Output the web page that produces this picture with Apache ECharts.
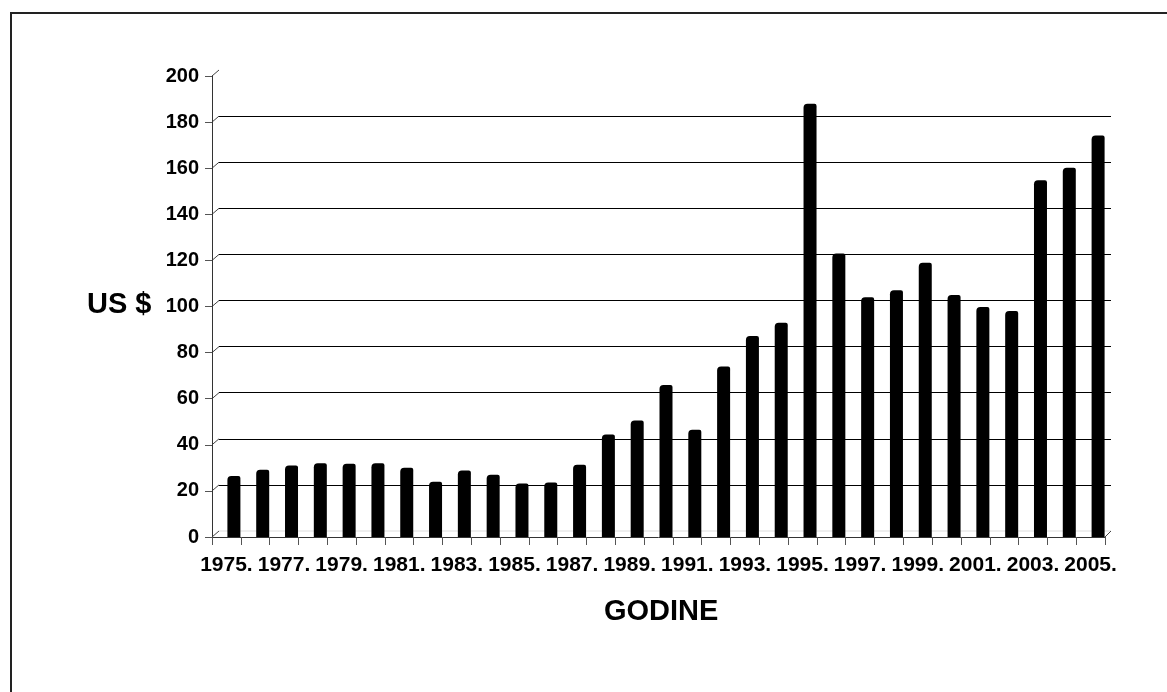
<!DOCTYPE html>
<html>
<head>
<meta charset="utf-8">
<script src="https://cdn.jsdelivr.net/npm/echarts@6/dist/echarts.min.js"></script>
<style>
html,body{margin:0;padding:0;background:#fff;}
#chart{width:1167px;height:692px;}
</style>
</head>
<body>
<div id="chart"></div>
<script>
// ---- data ----
const years = ['1975.','1976.','1977.','1978.','1979.','1980.','1981.','1982.','1983.','1984.','1985.','1986.','1987.','1988.','1989.','1990.','1991.','1992.','1993.','1994.','1995.','1996.','1997.','1998.','1999.','2000.','2001.','2002.','2003.','2004.','2005.'];
const values = [26.5, 29.2, 31.0, 32.0, 31.8, 32.0, 30.0, 24.0, 28.8, 27.0, 23.2, 23.6, 31.3, 44.5, 50.5, 65.9, 46.5, 74.0, 87.2, 93.0, 188.0, 123.0, 104.0, 107.0, 119.0, 105.0, 99.8, 98.0, 154.8, 160.2, 174.2];
const yMin = 0, yMax = 200, yStep = 20;
const yTitle = 'US $';
const xTitle = 'GODINE';

const FONT = '"Liberation Sans", Arial, sans-serif';
const chart = echarts.init(document.getElementById('chart'), null, {renderer: 'canvas'});

const option = {
  backgroundColor: '#fff',
  animation: false,
  grid: [
    {left: 212, right: 62, top: 76, bottom: 155, containLabel: false},
    {left: 219, right: 56, top: 70, bottom: 161, containLabel: false}
  ],
  xAxis: [
    {
      type: 'category', gridIndex: 0, data: years, boundaryGap: true,
      axisLine: {show: true, lineStyle: {color: '#333', width: 1}},
      axisTick: {show: true, interval: 0, length: 8, lineStyle: {color: '#555'}},
      axisLabel: {interval: 1, margin: 18, color: '#000', fontFamily: FONT, fontWeight: 'bold', fontSize: 21},
      splitLine: {show: false}
    },
    {
      type: 'category', gridIndex: 1, data: years, show: false
    }
  ],
  yAxis: [
    {
      type: 'value', gridIndex: 0, min: yMin, max: yMax, interval: yStep,
      axisLine: {show: true, lineStyle: {color: '#333', width: 1}},
      axisTick: {show: true, length: 7, lineStyle: {color: '#555'}},
      axisLabel: {margin: 13, color: '#000', fontFamily: FONT, fontWeight: 'bold', fontSize: 20},
      splitLine: {show: false}
    },
    {
      type: 'value', gridIndex: 1, min: yMin, max: yMax, interval: yStep,
      axisLine: {show: false}, axisTick: {show: false}, axisLabel: {show: false},
      splitLine: {show: true, showMinLine: false, showMaxLine: false, lineStyle: {color: '#000', width: 1}}
    }
  ],
  series: [
    {
      name: 'spacer', type: 'bar', xAxisIndex: 0, yAxisIndex: 0,
      data: years.map(() => null), barWidth: 15, barGap: '0%',
      itemStyle: {color: 'rgba(0,0,0,0)'}, silent: true
    },
    {
      name: 'value', type: 'bar', xAxisIndex: 0, yAxisIndex: 0,
      data: values, barWidth: 13, barGap: '0%', z: 5,
      itemStyle: {color: '#000', borderRadius: [4, 2, 0, 0]}
    }
  ],
  graphic: [
    {type: 'rect', shape: {x: 11, y: 13, width: 3000, height: 3000}, style: {fill: 'none', stroke: '#222', lineWidth: 2}, silent: true},
    {type: 'text', left: 87, top: 290, style: {text: yTitle, font: 'bold 29px ' + FONT, fill: '#000'}},
    {type: 'text', left: 604, top: 597, style: {text: xTitle, font: 'bold 29px ' + FONT, fill: '#000'}}
  ]
};
chart.setOption(option);

// 3D connectors between front axis and back wall
const extra = [];
for (let v = yMin; v <= yMax; v += yStep) {
  const yf = chart.convertToPixel({yAxisIndex: 0}, v);
  const yb = chart.convertToPixel({yAxisIndex: 1}, v);
  extra.push({type: 'line', shape: {x1: 212, y1: yf, x2: 219, y2: yb}, style: {stroke: '#444', lineWidth: 1}, silent: true});
}
const y0f = chart.convertToPixel({yAxisIndex: 0}, yMin);
const y0b = chart.convertToPixel({yAxisIndex: 1}, yMin);
extra.push({type: 'line', shape: {x1: 219, y1: y0b, x2: 1111, y2: y0b}, style: {stroke: '#ddd', lineWidth: 1}, silent: true, z: -1});
extra.push({type: 'line', shape: {x1: 1105, y1: y0f, x2: 1111, y2: y0b}, style: {stroke: '#444', lineWidth: 1}, silent: true});
chart.setOption({graphic: option.graphic.concat(extra)});
</script>
</body>
</html>
